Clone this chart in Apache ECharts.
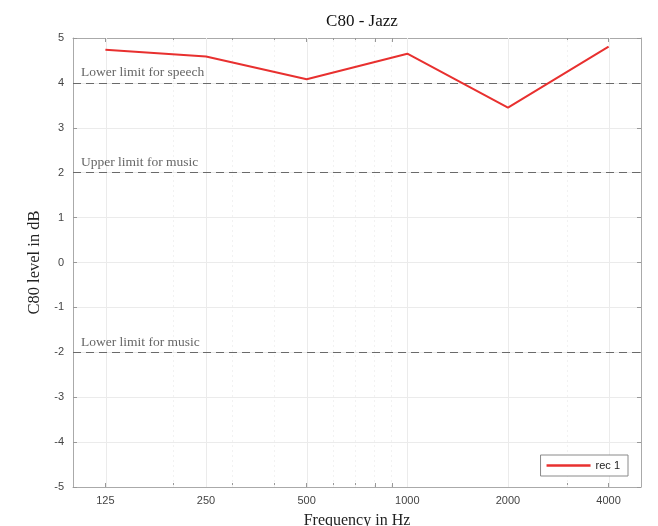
<!DOCTYPE html>
<html><head><meta charset="utf-8">
<script src="https://cdn.jsdelivr.net/npm/echarts@6/dist/echarts.min.js"></script>
<style>html,body{margin:0;padding:0;background:#fff}#c{width:658px;height:526px}</style>
</head><body><div id="c"></div>
<script>
const frequencies = [125, 250, 500, 1000, 2000, 4000];
const rec1 = [4.74, 4.59, 4.08, 4.65, 3.45, 4.81];
const xTickLabels = [125, 250, 500, 1000, 2000, 4000];
const xMinorTicks = [200, 300, 400, 600, 700, 800, 900, 3000];
const limitValues = [4, 2, -2];
const limitNames = ['Lower limit for speech', 'Upper limit for music', 'Lower limit for music'];
const xRange = [100, 5000];
const yRange = [-5, 5];

const L = Math.log2;
const serif = 'Liberation Serif';
const sans = 'Liberation Sans';
const allTicks = xTickLabels.concat(xMinorTicks).map(L);

const chart = echarts.init(document.getElementById('c'));
chart.setOption({
  animation: false,
  title: { text: 'C80 - Jazz', left: 357, top: 8, textAlign: 'center',
    textStyle: { fontFamily: serif, fontSize: 17, fontWeight: 'normal', color: '#111' } },
  grid: { left: 73, right: 17, top: 38, bottom: 39, outerBoundsMode: 'none', containLabel: false },
  legend: {
    right: 30, bottom: 50, orient: 'vertical', z: 20,
    borderColor: '#8a8a8a', borderWidth: 1, backgroundColor: '#fff',
    padding: [5, 8, 5, 6], itemWidth: 44, itemHeight: 2.5, itemGap: 4,
    textStyle: { fontFamily: sans, fontSize: 11, color: '#222' },
    data: [{ name: 'rec 1', icon: 'rect' }]
  },
  xAxis: [{
    type: 'value', min: L(xRange[0]), max: L(xRange[1]),
    name: 'Frequency in Hz', nameLocation: 'middle', nameGap: 26,
    nameTextStyle: { fontFamily: serif, fontSize: 16, color: '#222' },
    axisLine: { show: true, onZero: false, lineStyle: { color: '#aaa' } },
    axisTick: { show: true, inside: true, length: 4, customValues: allTicks, lineStyle: { color: '#999' } },
    axisLabel: { customValues: xTickLabels.map(L), margin: 8,
      formatter: v => String(Math.round(Math.pow(2, v))),
      fontFamily: sans, fontSize: 11, color: '#444' },
    splitLine: { show: false }
  }, {
    type: 'value', position: 'top', min: L(xRange[0]), max: L(xRange[1]),
    axisLine: { show: true, onZero: false, lineStyle: { color: '#aaa' } },
    axisTick: { show: true, inside: true, length: 4, customValues: allTicks, lineStyle: { color: '#999' } },
    axisLabel: { show: false }, splitLine: { show: false }
  }],
  yAxis: [{
    type: 'value', min: yRange[0], max: yRange[1], interval: 1,
    name: 'C80 level in dB', nameLocation: 'middle', nameGap: 24,
    nameTextStyle: { fontFamily: serif, fontSize: 16.5, color: '#222' },
    axisLine: { show: true, onZero: false, lineStyle: { color: '#aaa' } },
    axisTick: { show: true, inside: true, length: 4, lineStyle: { color: '#999' } },
    axisLabel: { fontFamily: sans, fontSize: 11, color: '#444', margin: 9 },
    splitLine: { show: true, lineStyle: { color: '#ebebeb', width: 1 } }
  }, {
    type: 'value', position: 'right', min: yRange[0], max: yRange[1], interval: 1,
    axisLine: { show: true, onZero: false, lineStyle: { color: '#aaa' } },
    axisTick: { show: true, inside: true, length: 4, lineStyle: { color: '#999' } },
    axisLabel: { show: false }, splitLine: { show: false }
  }],
  series: [{
    name: 'grid', type: 'line', data: [], silent: true,
    markLine: {
      silent: true, symbol: 'none', label: { show: false },
      lineStyle: { color: '#ebebeb', type: 'solid', width: 1 },
      data: xTickLabels.map(f => ({ xAxis: L(f) }))
    }
  }, {
    name: 'minorgrid', type: 'line', data: [], silent: true,
    markLine: {
      silent: true, symbol: 'none', label: { show: false },
      lineStyle: { color: '#f2f2f2', type: [2, 3], width: 1 },
      data: xMinorTicks.map(f => ({ xAxis: L(f) }))
    }
  }, {
    name: 'limits', type: 'line', data: [], silent: true,
    markLine: {
      silent: true, symbol: 'none',
      lineStyle: { color: '#6a6a6a', type: [8, 5], width: 1.2 },
      label: { show: true, position: 'insideStartTop', distance: [8, 3],
        fontFamily: serif, fontSize: 13.5, color: '#666' },
      data: limitValues.map((v, i) => ({ yAxis: v, label: { formatter: limitNames[i] } }))
    }
  }, {
    name: 'rec 1', type: 'line', symbol: 'none',
    lineStyle: { color: '#e8302f', width: 2 }, itemStyle: { color: '#e8302f' },
    data: frequencies.map((f, i) => [L(f), rec1[i]]), z: 5
  }]
});
</script></body></html>
